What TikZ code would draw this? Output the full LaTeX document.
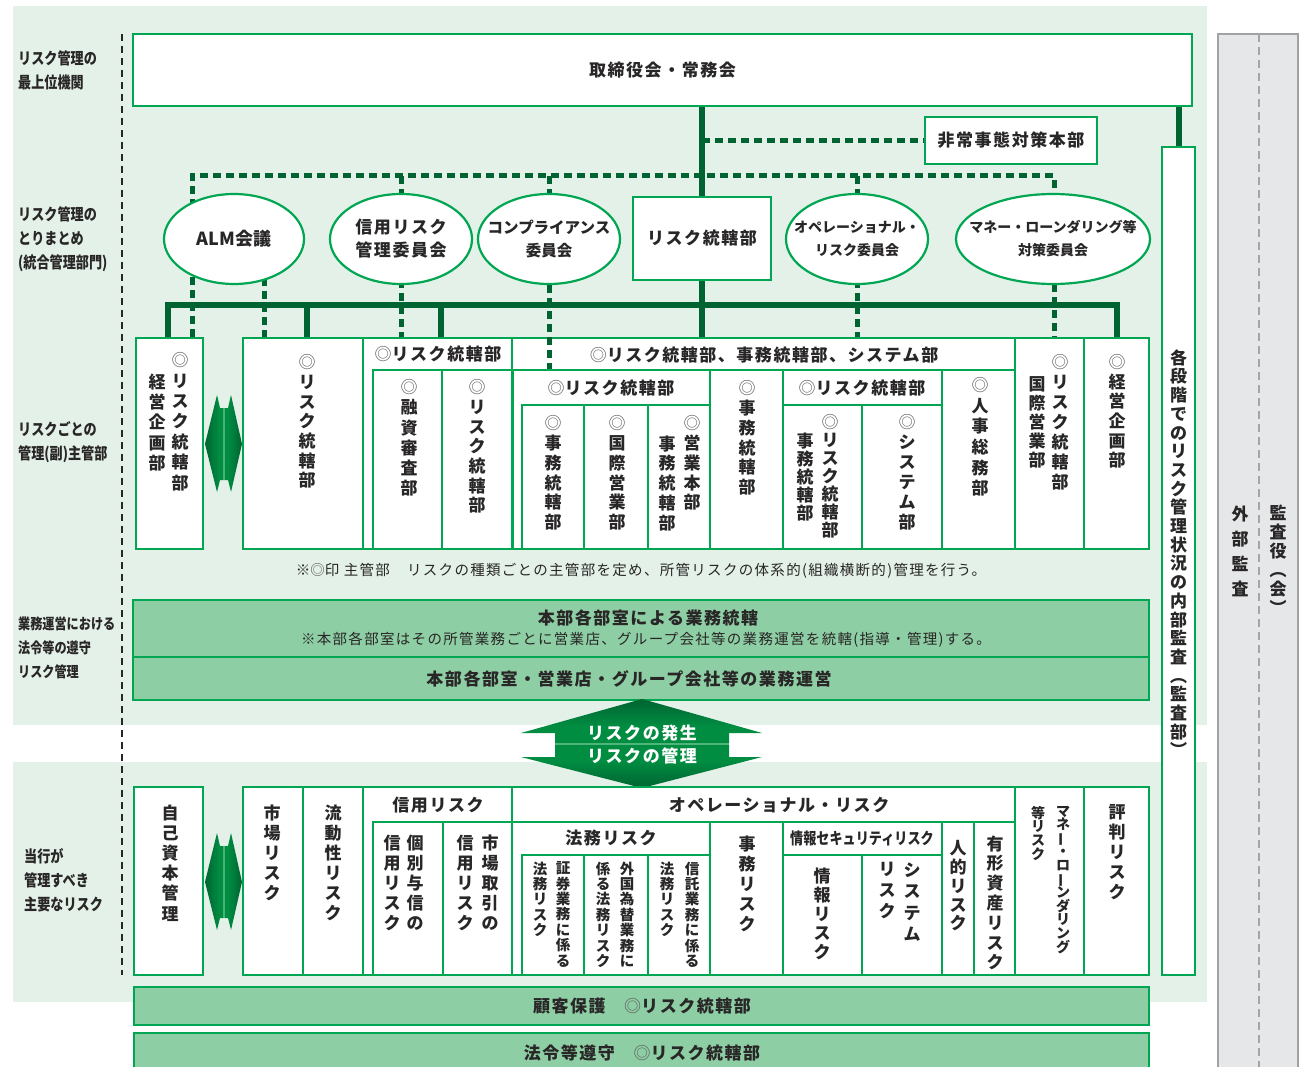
\documentclass[tikz,border=0pt]{standalone}
\usepackage{fontspec}
\usepackage{graphicx}
\setmainfont{Noto Sans CJK JP}
\newfontfamily\jpL{Noto Sans CJK JP}[LetterSpace=9]
\newfontfamily\jpC{Noto Sans CJK JP}[FakeStretch=0.82]
\usetikzlibrary{shapes.geometric}
\pgfdeclarelayer{back}\pgfdeclarelayer{conn}
\pgfsetlayers{back,conn,main}
\definecolor{bgG}{RGB}{228,241,232}
\definecolor{lineG}{RGB}{0,166,81}
\definecolor{dkG}{RGB}{0,100,50}
\definecolor{bandG}{RGB}{142,206,164}
\definecolor{grayF}{RGB}{230,231,232}
\definecolor{grayB}{RGB}{160,162,165}
\definecolor{grayD}{RGB}{165,165,165}
\definecolor{txt}{RGB}{40,38,38}
\definecolor{dmc}{RGB}{90,90,90}
\definecolor{midG}{RGB}{0,140,65}
\definecolor{litG}{RGB}{130,210,160}
\pgfdeclarehorizontalshading{garrow}{100bp}{color(0bp)=(dkG); color(25bp)=(dkG); color(44bp)=(midG); color(48.5bp)=(midG); color(50bp)=(litG); color(51.5bp)=(midG); color(56bp)=(midG); color(75bp)=(dkG); color(100bp)=(dkG)}
\pgfdeclareverticalshading{varrow}{100bp}{color(0bp)=(dkG); color(25bp)=(dkG); color(40bp)=(midG); color(49.3bp)=(midG); color(50bp)=(litG); color(50.7bp)=(midG); color(60bp)=(midG); color(75bp)=(dkG); color(100bp)=(dkG)}
\newcommand\dm{{\mdseries\color{dmc}◎}}
\newcommand\VL{\rotatebox[origin=c]{90}{ー}}
\def\vsEnd{\vsEnd}
\def\vsA#1{\ifx\vsEnd#1\else\hbox to 1.05em{\hss#1\hss}\expandafter\vsA\fi}
\newcommand\vstack[2]{\vbox{\baselineskip=#1\lineskiplimit=-\maxdimen\lineskip=0pt\vsA#2\vsEnd}}
\newcommand\fH{\jpL\bfseries\fontsize{17}{20}\selectfont}
\tikzset{
 cell/.style={draw=lineG, line width=2.2pt, fill=white, inner sep=0pt},
 band/.style={draw=lineG, line width=2.5pt, fill=bandG, inner sep=0pt},
 ell/.style={ellipse, draw=lineG, line width=2.2pt, fill=white, inner sep=0pt},
 solidc/.style={draw=dkG, line width=6pt},
 dashc/.style={draw=dkG, line width=5pt, dash pattern=on 8pt off 5pt},
 vtx/.style={inner sep=0pt, anchor=north, text=txt},
 htx/.style={inner sep=0pt, text=txt, align=center},
 lbl/.style={inner sep=0pt, anchor=west, text=txt, align=left, font=\jpC\bfseries\fontsize{16}{24}\selectfont},
}
\newcommand\VT[6]{\node[vtx,font=\bfseries\fontsize{#4}{#4}\selectfont] (#1) at (#2,#3-0.45*#4) {\vstack{#5pt}{#6}};}
\newcommand\cellbox[6][]{%
 \pgfmathsetmacro\cbw{#5-#3}\pgfmathsetmacro\cbh{#6-#4}%
 \pgfmathsetmacro\cbx{(#3+#5)/2}\pgfmathsetmacro\cby{(#4+#6)/2}%
 \node[cell,minimum width=\cbw pt,minimum height=\cbh pt,#1] (#2) at (\cbx,\cby) {};}
\begin{document}
\begin{tikzpicture}[x=1pt,y=-1pt]
\useasboundingbox (0,0) rectangle (1300,1067);
\begin{pgfonlayer}{back}
 \fill[bgG] (13,6) rectangle (1207,725);
 \fill[bgG] (13,762) rectangle (1207,1002);
 \draw[draw=grayB, fill=grayF, line width=2.5pt] (1218,34) rectangle (1298,1085);
 \draw[grayD, line width=1.5pt, dash pattern=on 8pt off 5pt] (1259,34) -- (1259,1067);
 \draw[txt, line width=2.2pt, dash pattern=on 7pt off 5pt] (122,34) -- (122,975);
\end{pgfonlayer}

% left labels
\node[lbl] (L1) at (18,70) {リスク管理の\\最上位機関};
\node[lbl] (L2) at (18,239) {リスク管理の\\とりまとめ\\(統合管理部門)};
\node[lbl] (L3) at (18,442) {リスクごとの\\管理(副)主管部};
\node[lbl,font=\jpC\bfseries\fontsize{14.8}{24}\selectfont] (L4) at (18,648) {業務運営における\\法令等の遵守\\リスク管理};
\node[lbl] (L5) at (24,880) {当行が\\管理すべき\\主要なリスク};

% top level
\cellbox{top}{133}{34}{1192}{106}
\node[htx,font=\fH] (topT) at (top) {取締役会・常務会};
\cellbox{hq}{925}{117}{1097}{164}
\node[htx,font=\fH] (hqT) at (hq) {非常事態対策本部};
\cellbox{risk}{633}{197}{771}{280}
\node[htx,font=\fH] (riskT) at (risk) {リスク統轄部};
\cellbox{audit}{1162}{147}{1195}{975}
\VT{auditT}{1178.5}{357}{17}{18.7}{各段階でのリスク管理状況の内部監査︵監査部︶}
\VT{extT}{1240}{513}{17}{25}{外部監査}
\VT{kanT}{1278}{512}{17}{19}{監査役︵会︶}

% committees
\node[ell,minimum width=140pt,minimum height=90pt] (alm) at (234,239) {};
\node[htx,font=\bfseries\fontsize{18}{20}\selectfont] (almT) at (alm) {ALM会議};
\node[ell,minimum width=142pt,minimum height=90pt] (cred) at (401,239) {};
\node[htx,font=\jpL\bfseries\fontsize{17}{23}\selectfont] (credT) at (cred) {信用リスク\\管理委員会};
\node[ell,minimum width=142pt,minimum height=90pt] (comp) at (549,239) {};
\node[htx,font=\bfseries\fontsize{15.5}{23}\selectfont] (compT) at (comp) {コンプライアンス\\委員会};
\node[ell,minimum width=142pt,minimum height=90pt] (ope) at (857,239) {};
\node[htx,font=\bfseries\fontsize{14}{23}\selectfont] (opeT) at (ope) {オペレーショナル・\\リスク委員会};
\node[ell,minimum width=194pt,minimum height=90pt] (mane) at (1053,239) {};
\node[htx,font=\bfseries\fontsize{14}{23}\selectfont] (maneT) at (mane) {マネー・ローンダリング等\\対策委員会};

% top row of departments
\cellbox{boxA}{136}{338}{203}{549}
\cellbox{cellB}{243}{338}{363}{549}
\cellbox{grpC}{363}{338}{512}{549}
\cellbox{cellCa}{373}{370}{442}{549}
\cellbox{cellCb}{442}{370}{512}{549}
\cellbox{grpD}{512}{338}{1015}{549}
\cellbox{subD}{513}{370}{710}{549}
\cellbox{cellDa}{522}{405}{584}{549}
\cellbox{cellDb}{584}{405}{648}{549}
\cellbox{cellDc}{648}{405}{710}{549}
\cellbox{cellE}{710}{370}{783}{549}
\cellbox{subF}{783}{370}{942}{549}
\cellbox{cellFa}{783}{405}{862}{549}
\cellbox{cellFb}{862}{405}{942}{549}
\cellbox{cellG}{942}{370}{1015}{549}
\cellbox{cellH}{1015}{338}{1084}{549}
\cellbox{cellI}{1084}{338}{1149}{549}
\draw[dashc] (comp.south) -- (comp.south |- subD.north);

\node[htx,font=\fH] (grpCT) at (438,354) {\dm リスク統轄部};
\node[htx,font=\fH] (grpDT) at (764,355) {\dm リスク統轄部、事務統轄部、システム部};
\node[htx,font=\fH] (subDT) at (611,388) {\dm リスク統轄部};
\node[htx,font=\fH] (subFT) at (862,388) {\dm リスク統轄部};

\VT{tA1}{180}{360}{17}{20.4}{\dm リスク統轄部}
\VT{tA2}{157}{381}{17}{20.4}{経営企画部}
\VT{tB}{307}{362}{17}{19.7}{\dm リスク統轄部}
\VT{tC1}{409}{387}{17}{20.2}{\dm 融資審査部}
\VT{tC2}{477}{387}{17}{19.7}{\dm リスク統轄部}
\VT{tD1}{553}{423}{17}{19.8}{\dm 事務統轄部}
\VT{tD2}{617}{423}{17}{19.8}{\dm 国際営業部}
\VT{tD3a}{692}{423}{17}{19.8}{\dm 営業本部}
\VT{tD3b}{667}{443}{17}{19.8}{事務統轄部}
\VT{tE}{747}{388}{17}{19.8}{\dm 事務統轄部}
\VT{tF1a}{830}{422}{17}{18}{\dm リスク統轄部}
\VT{tF1b}{805}{440}{17}{18}{事務統轄部}
\VT{tF2}{907}{422}{17}{20}{\dm システム部}
\VT{tG}{980}{385}{17}{20.6}{\dm 人事総務部}
\VT{tH1}{1060}{362}{17}{20}{\dm リスク統轄部}
\VT{tH2}{1037}{384}{17}{19}{国際営業部}
\VT{tI}{1117}{362}{17}{19.6}{\dm 経営企画部}

\node[htx,font=\jpL\fontsize{14.5}{16}\selectfont] (note) at (641,571) {※\dm 印 主管部　リスクの種類ごとの主管部を定め、所管リスクの体系的(組織横断的)管理を行う。};

% bands
\cellbox[band]{b1}{133}{600}{1149}{657}
\cellbox[band]{b2}{133}{657}{1149}{700}
\node[htx,font=\fH] (b1T) at (648,618) {本部各部室による業務統轄};
\node[htx,font=\jpL\fontsize{14.5}{16}\selectfont] (b1N) at (646,640) {※本部各部室はその所管業務ごとに営業店、グループ会社等の業務運営を統轄(指導・管理)する。};
\node[htx,font=\fH] (b2T) at (629,679) {本部各部室・営業店・グループ会社等の業務運営};

% central arrow
\shade[shading=varrow] (642,699) -- (762,733) -- (729,733) -- (729,757) -- (762,757) -- (642,788) -- (521,757) -- (555,757) -- (555,733) -- (521,733) -- cycle;
\node[htx,font=\fH,text=white] (arT1) at (642,733) {リスクの発生};
\node[htx,font=\fH,text=white] (arT2) at (642,756) {リスクの管理};

% left double arrows
\shade[shading=garrow] (205,444) -- (217,395) -- (220,408) -- (228,408) -- (231,395) -- (242,444) -- (231,492) -- (228,480) -- (220,480) -- (217,492) -- cycle;
\shade[shading=garrow] (205,882) -- (217,833) -- (220,846) -- (228,846) -- (231,833) -- (242,882) -- (231,930) -- (228,918) -- (220,918) -- (217,930) -- cycle;

% bottom row of risks
\cellbox{capB}{134}{787}{203}{975}
\cellbox{mkt}{243}{787}{303}{975}
\cellbox{liq}{303}{787}{363}{975}
\cellbox{grpCr}{363}{787}{512}{975}
\cellbox{crA}{373}{822}{443}{975}
\cellbox{crB}{443}{822}{512}{975}
\cellbox{grpOp}{512}{787}{1015}{975}
\cellbox{subLeg}{512}{822}{710}{975}
\cellbox{legA}{522}{855}{584}{975}
\cellbox{legB}{584}{855}{648}{975}
\cellbox{legC}{648}{855}{710}{975}
\cellbox{adm}{710}{822}{783}{975}
\cellbox{subSec}{783}{822}{942}{975}
\cellbox{secA}{783}{855}{862}{975}
\cellbox{secB}{862}{855}{942}{975}
\cellbox{hum}{942}{822}{974}{975}
\cellbox{tang}{974}{822}{1015}{975}
\cellbox{aml}{1015}{787}{1084}{975}
\cellbox{rep}{1084}{787}{1149}{975}

\node[htx,font=\fH] (grpCrT) at (438,805) {信用リスク};
\node[htx,font=\fH] (grpOpT) at (779,805) {オペレーショナル・リスク};
\node[htx,font=\fH] (subLegT) at (611,838) {法務リスク};
\node[htx,font=\jpC\bfseries\fontsize{16}{18}\selectfont] (subSecT) at (862,838) {情報セキュリティリスク};

\VT{uCap}{170}{812}{17}{20.2}{自己資本管理}
\VT{uMkt}{272}{812}{17}{20}{市場リスク}
\VT{uLiq}{333}{812}{17}{20}{流動性リスク}
\VT{uCrAa}{415}{842}{17}{20}{個別与信の}
\VT{uCrAb}{392}{842}{17}{20}{信用リスク}
\VT{uCrBa}{490}{842}{17}{20}{市場取引の}
\VT{uCrBb}{465}{842}{17}{20}{信用リスク}
\VT{uLAa}{563}{868}{14.5}{15.4}{証券業務に係る}
\VT{uLAb}{540}{868}{14.5}{15.4}{法務リスク}
\VT{uLBa}{627}{868}{14.5}{15.4}{外国為替業務に}
\VT{uLBb}{603}{868}{14.5}{15.4}{係る法務リスク}
\VT{uLCa}{692}{868}{14.5}{15.4}{信託業務に係る}
\VT{uLCb}{667}{868}{14.5}{15.4}{法務リスク}
\VT{uAdm}{747}{843}{17}{20}{事務リスク}
\VT{uSa}{822}{875}{17}{19}{情報リスク}
\VT{uSba}{912}{870}{17}{21.5}{システム}
\VT{uSbb}{887}{870}{17}{21}{リスク}
\VT{uHum}{958}{848}{17}{18.75}{人的リスク}
\VT{uTan}{995}{843}{17}{19.8}{有形資産リスク}
\VT{uAmlA}{1063}{812}{14}{13.6}{マネ\VL ・ロ\VL ンダリング}
\VT{uAmlB}{1038}{812}{14}{13.7}{等リスク}
\VT{uRep}{1117}{812}{17}{20}{評判リスク}

\cellbox[band]{b3}{134}{987}{1149}{1025}
\cellbox[band]{b4}{134}{1033}{1149}{1085}
\node[htx,font=\fH] (b3T) at (642,1006) {顧客保護　\dm リスク統轄部};
\node[htx,font=\fH] (b4T) at (642,1053) {法令等遵守　\dm リスク統轄部};

% connectors
\begin{pgfonlayer}{conn}
\coordinate (barL) at (168,305);
\coordinate (barR) at (1117,305);
\coordinate (dB) at (307,305);
\coordinate (dC) at (441,305);
\coordinate (tdL) at (192,176);
\coordinate (tdR) at (1054,176);
\coordinate (almD) at (264,338);
\draw[solidc] (top.south -| risk.north) -- (risk.north);
\draw[solidc] (risk.south) -- (risk.south |- grpD.north);
\draw[solidc] (boxA.north -| barL) -- (barL) -- (barR) -- (cellI.north -| barR);
\draw[solidc] (dB) -- (dB |- cellB.north);
\draw[solidc] (dC) -- (dC |- grpC.north);
\draw[solidc] (top.south -| audit.north) -- (audit.north);
\draw[dashc] (hq.west -| risk.north) -- (hq.west);
\draw[dashc] (tdL |- boxA.north) -- (tdL) -- (tdR) -- (tdR |- cellH.north);
\draw[dashc] (almD |- alm.center) -- (almD);
\draw[dashc] (cred.north |- tdL) -- (cred.north |- grpC.north);
\draw[dashc] (comp.north |- tdL) -- (comp.north);
\draw[dashc] (ope.north |- tdL) -- (ope.north |- grpD.north);
\end{pgfonlayer}
\end{tikzpicture}
\end{document}
